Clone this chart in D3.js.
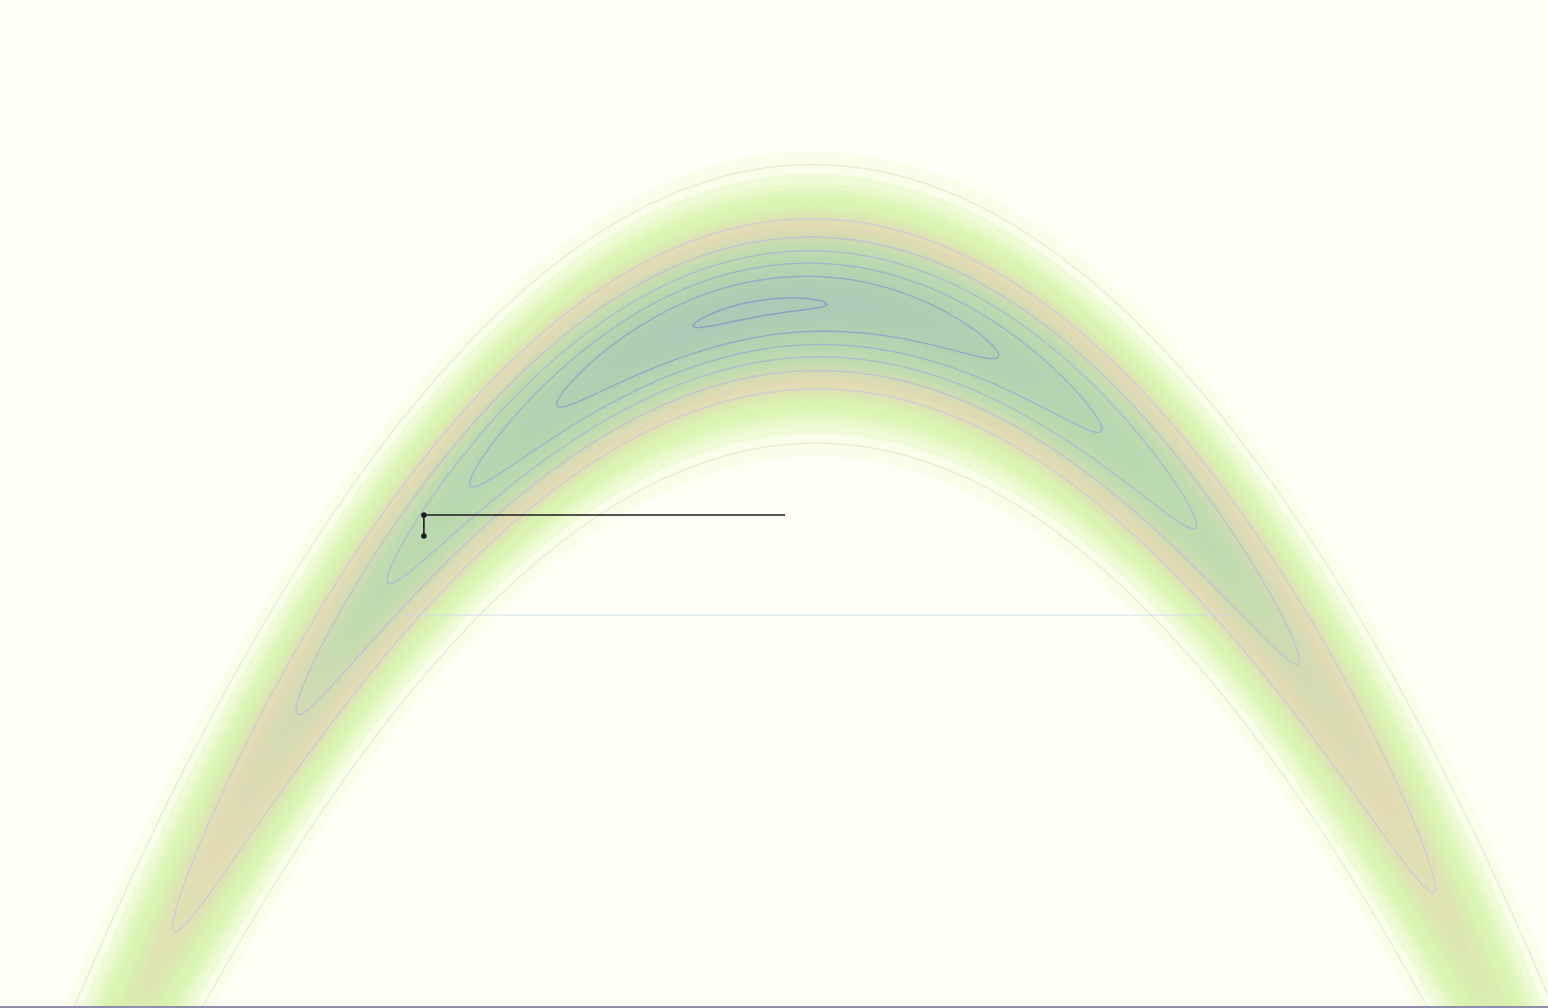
<!DOCTYPE html>
<html>
<head>
<meta charset="utf-8">
<script src="https://cdn.jsdelivr.net/npm/d3@7"></script>
<style>
html,body{margin:0;padding:0;background:#fefef5;overflow:hidden;}
svg{display:block;}
</style>
</head>
<body>
<script>
// ---- data ----
const xDomain = [-3.15, 2.85];
const yDomain = [3, -7];
// banana density: ridge mode, along-ridge scale (left, right), right-tail exponent,
// across-ridge sd (base, growth), curvature
const ridgeMode = [-0.262];
const ridgeSd = [1.17, 2.04];
const rightPow = [2.2];
const crossSd = [0.445, 0.016];
const curvature = [1.0];
// contour line levels (relative density)
const lineLevels = [0.008, 0.164, 0.328, 0.492, 0.656, 0.82, 0.984];
const lineColors = ["#dcefcf", "#cdc6dc", "#bdbcd8", "#adb3d4", "#9eaad0", "#909fcb", "#7f94c4"];
// fill colour stops (relative density -> colour)
const fillStops = [0, 0.004, 0.02, 0.05, 0.1, 0.15, 0.2, 0.3, 0.42, 0.6, 0.8, 1.0];
const fillColors = ["#fefef6", "#f7fce4", "#ecf9cf", "#dbf6b5", "#d9efb0", "#dfe2b4", "#e2dab5", "#d4dbb2", "#c0dcb0", "#b8d8b0", "#b2d1b1", "#acc9b5"];
// Gibbs sampler path (current) and an earlier faded move
const pathX = [-1.507, -1.507, -0.107];
const pathY = [-2.317, -2.109, -2.109];
const pathDots = [0, 1];
const oldX = [-1.58, 1.618];
const oldY = [-3.101, -3.101];

// ---- drawing ----
const W = 1548, H = 1008;
const x = d3.scaleLinear().domain(xDomain).range([0, W]);
const y = d3.scaleLinear().domain(yDomain).range([0, H]);

const svg = d3.select("body").append("svg").attr("width", W).attr("height", H);
svg.append("rect").attr("width", W).attr("height", H).attr("fill", fillColors[0]);

const step = 3;
const n = Math.ceil(W / step) + 1, m = Math.ceil(H / step) + 1;
const grid = new Float64Array(n * m);
for (let j = 0; j < m; j++) {
  for (let i = 0; i < n; i++) {
    const xv = x.invert(i * step), yv = y.invert(j * step);
    const sd = crossSd[0] + crossSd[1] * xv * xv;
    let alongTerm;
    if (xv < ridgeMode[0]) {
      const a = (xv - ridgeMode[0]) / ridgeSd[0];
      alongTerm = 0.5 * a * a;
    } else {
      alongTerm = Math.pow((xv - ridgeMode[0]) / ridgeSd[1], rightPow[0]);
    }
    const b = (yv + curvature[0] * xv * xv) / sd;
    grid[j * n + i] = Math.exp(-alongTerm - 0.5 * b * b);
  }
}

const color = d3.scaleLinear().domain(fillStops).range(fillColors);
const fillThresholds = d3.range(0.003, 1, 0.012);
const contours = d3.contours().size([n, m]).thresholds(fillThresholds)(grid);
const path = d3.geoPath(d3.geoIdentity().scale(step));

svg.append("g").selectAll("path").data(contours).join("path")
  .attr("d", path).attr("fill", d => color(d.value)).attr("stroke", "none");

const lines = d3.contours().size([n, m]).thresholds(lineLevels)(grid);
svg.append("g").selectAll("path").data(lines).join("path")
  .attr("d", path).attr("fill", "none")
  .attr("stroke", (d, i) => lineColors[i])
  .attr("stroke-width", 1.3)
  .attr("stroke-opacity", 0.85);

// earlier move (faded)
svg.append("path")
  .attr("d", d3.line()(oldX.map((v, i) => [x(v), y(oldY[i])])))
  .attr("stroke", "#c8d8ec").attr("stroke-width", 1.2).attr("fill", "none").attr("opacity", 0.8);

// current Gibbs path
svg.append("path")
  .attr("d", d3.line()(pathX.map((v, i) => [x(v), y(pathY[i])])))
  .attr("stroke", "#1c1c1c").attr("stroke-width", 1.6).attr("fill", "none");
svg.append("g").selectAll("circle").data(pathDots).join("circle")
  .attr("cx", i => x(pathX[i])).attr("cy", i => y(pathY[i]))
  .attr("r", 2.8).attr("fill", "#1c1c1c");

// bottom border
svg.append("rect").attr("x", 0).attr("y", H - 2).attr("width", W).attr("height", 2).attr("fill", "#8e8eaa");
</script>
</body>
</html>
